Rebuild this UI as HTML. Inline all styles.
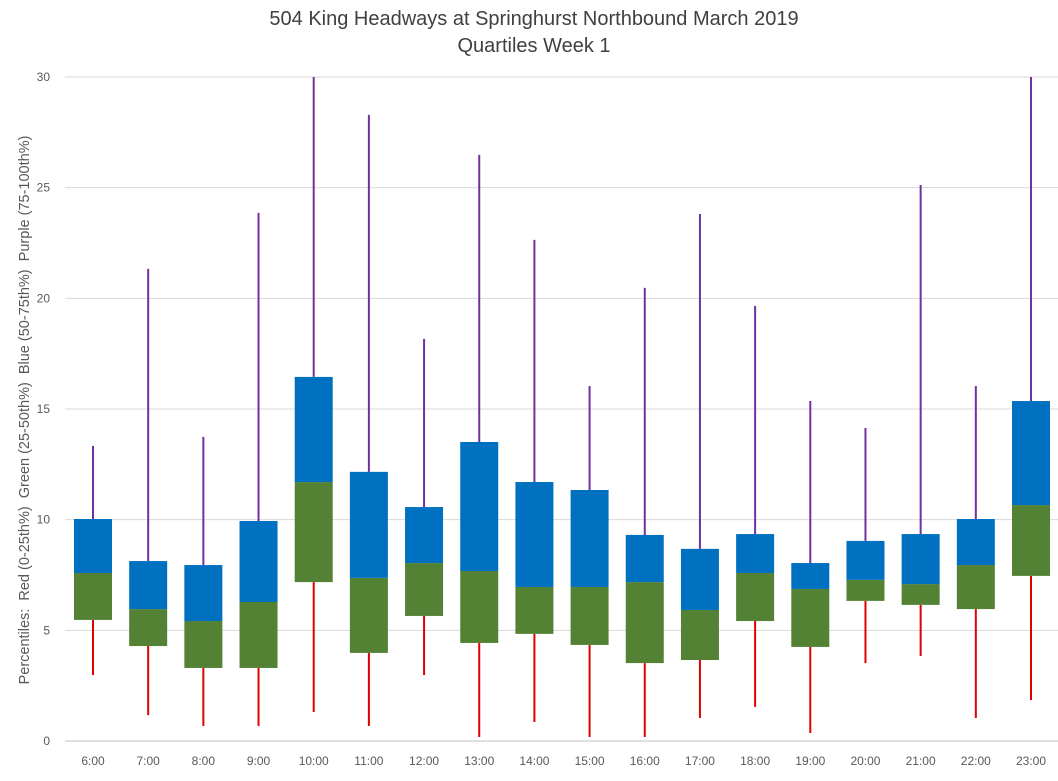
<!DOCTYPE html>
<html><head><meta charset="utf-8"><style>
body{margin:0;background:#fff;font-family:"Liberation Sans",sans-serif}
svg text{font-family:"Liberation Sans",sans-serif}
</style></head><body>
<svg id="chart" width="1058" height="776" xmlns="http://www.w3.org/2000/svg">
<text x="534" y="25" text-anchor="middle" font-size="20" fill="#404040">504 King Headways at Springhurst Northbound March 2019</text>
<text x="534" y="52" text-anchor="middle" font-size="20" fill="#404040">Quartiles Week 1</text>
<text transform="translate(29,410) rotate(-90)" text-anchor="middle" font-size="14.5" fill="#595959" style="white-space:pre">Percentiles:  Red (0-25th%)  Green (25-50th%)  Blue (50-75th%)  Purple (75-100th%)</text>
<g id="grid"></g><g id="marks"></g>
</svg>
<script>
const categories=["6:00","7:00","8:00","9:00","10:00","11:00","12:00","13:00","14:00","15:00","16:00","17:00","18:00","19:00","20:00","21:00","22:00","23:00"];
const minVals=[2.98,1.17,0.68,0.68,1.31,0.68,2.98,0.18,0.86,0.18,0.18,1.04,1.54,0.36,3.52,3.84,1.04,1.85];
const q1Vals=[5.47,4.29,3.30,3.30,7.18,3.98,5.65,4.43,4.84,4.34,3.52,3.66,5.42,4.25,6.33,6.15,5.96,7.46];
const medVals=[7.59,5.96,5.42,6.28,11.70,7.37,8.04,7.68,6.96,6.96,7.18,5.92,7.59,6.87,7.28,7.09,7.95,10.66];
const q3Vals=[10.03,8.13,7.95,9.94,16.45,12.16,10.57,13.51,11.70,11.34,9.31,8.68,9.35,8.04,9.04,9.35,10.03,15.36];
const maxVals=[13.33,21.33,13.74,23.86,30,28.29,18.17,26.48,22.64,16.04,20.47,23.81,19.66,15.36,14.14,25.12,16.04,30];
const yTicks=[0,5,10,15,20,25,30];
const NS="http://www.w3.org/2000/svg";
const y=v=>741-v*(664/30);
const x=i=>93+i*(938/17);
function mk(tag,attrs,parent){const e=document.createElementNS(NS,tag);for(const k in attrs)e.setAttribute(k,attrs[k]);parent.appendChild(e);return e;}
const grid=document.getElementById('grid'),marks=document.getElementById('marks');
yTicks.forEach(t=>{
 const l=mk('line',{x1:65,x2:1058,y1:y(t),y2:y(t),stroke:t===0?'#bfbfbf':'#d9d9d9','stroke-width':1},grid);
 
 
 const tx=mk('text',{x:50,y:y(t)+4,'text-anchor':'end','font-size':12,fill:'#595959'},grid);
 tx.textContent=t;
 
 
});
categories.forEach((c,i)=>{
 const cx=x(i),w=38;
 const a=mk('line',{x1:cx,x2:cx,y1:y(minVals[i]),y2:y(q1Vals[i]),stroke:'#e00000','stroke-width':2},marks);
 
 
 const b=mk('line',{x1:cx,x2:cx,y1:y(q3Vals[i]),y2:y(maxVals[i]),stroke:'#7030a0','stroke-width':2},marks);
 
 
 const g=mk('rect',{x:cx-w/2,y:y(medVals[i]),width:w,height:y(q1Vals[i])-y(medVals[i]),fill:'#548235'},marks);
 
 
 const bl=mk('rect',{x:cx-w/2,y:y(q3Vals[i]),width:w,height:y(medVals[i])-y(q3Vals[i]),fill:'#0070c0'},marks);
 
 
 const t=mk('text',{x:cx,y:765,'text-anchor':'middle','font-size':12,fill:'#595959'},marks);
 t.textContent=c;
 
 
});
</script>
</body></html>
